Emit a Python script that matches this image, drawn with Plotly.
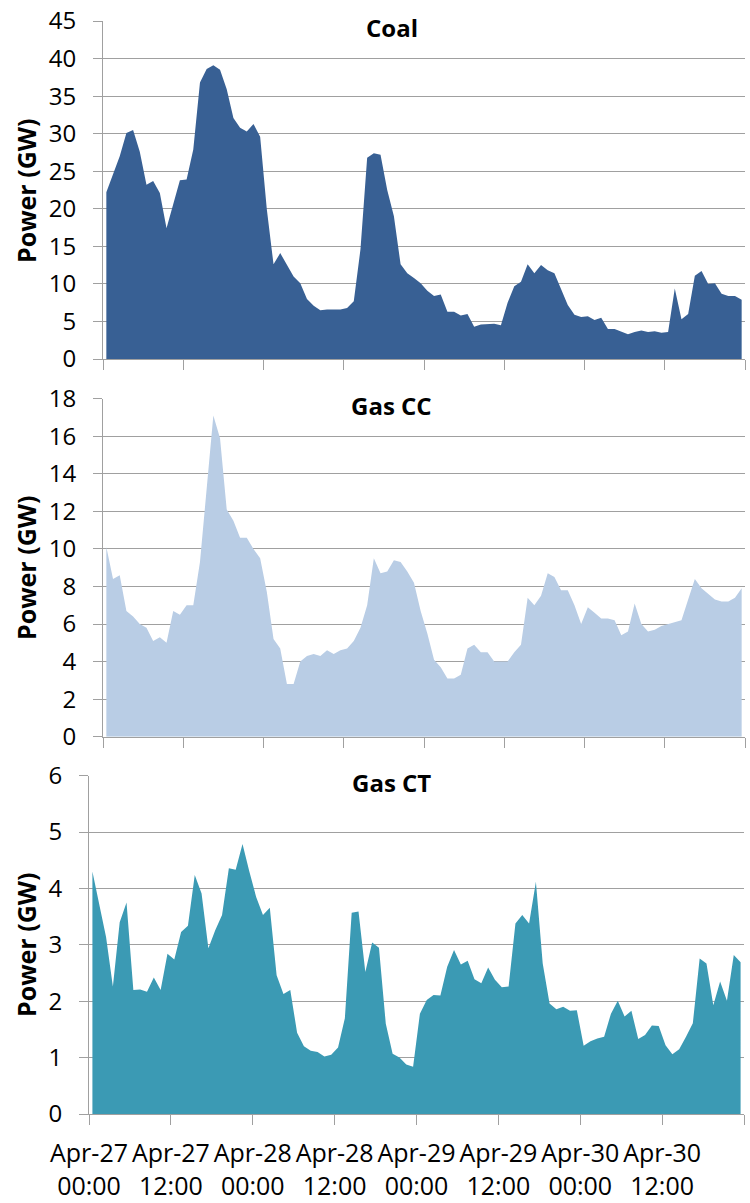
import plotly.graph_objects as go
import pandas as pd

# hourly observations (plotted at mid-hour)
times = pd.date_range("2013-04-27 00:30", periods=96, freq="h")

coal = [22.2, 24.5, 27.0, 30.1, 30.5, 27.6, 23.2, 23.7, 22.1, 17.4, 20.6, 23.8,
        23.9, 27.9, 36.8, 38.6, 39.1, 38.5, 35.9, 32.1, 30.8, 30.3, 31.3, 29.6,
        19.9, 12.6, 14.1, 12.6, 11.0, 10.1, 8.0, 7.1, 6.5, 6.6, 6.6, 6.6,
        6.8, 7.7, 14.6, 26.8, 27.4, 27.2, 22.5, 19.0, 12.6, 11.4, 10.8, 10.1,
        9.1, 8.4, 8.6, 6.3, 6.3, 5.8, 6.0, 4.3, 4.6, 4.6, 4.7, 4.5,
        7.5, 9.7, 10.3, 12.6, 11.4, 12.5, 11.8, 11.4, 9.2, 7.2, 5.9, 5.6,
        5.7, 5.2, 5.5, 4.0, 4.0, 3.6, 3.3, 3.6, 3.8, 3.6, 3.7, 3.5,
        3.6, 9.4, 5.3, 6.0, 11.1, 11.7, 10.0, 10.1, 8.7, 8.4, 8.4, 7.9]

gas_cc = [10.1, 8.4, 8.6, 6.7, 6.4, 6.0, 5.8, 5.1, 5.3, 5.0, 6.7, 6.5,
          7.0, 7.0, 9.3, 13.4, 17.1, 15.9, 12.1, 11.5, 10.6, 10.6, 10.0, 9.5,
          7.7, 5.2, 4.7, 2.8, 2.8, 4.0, 4.3, 4.4, 4.3, 4.6, 4.4, 4.6,
          4.7, 5.1, 5.8, 7.0, 9.5, 8.7, 8.8, 9.4, 9.3, 8.8, 8.2, 6.7,
          5.5, 4.1, 3.7, 3.1, 3.1, 3.3, 4.7, 4.9, 4.5, 4.5, 4.0, 4.0,
          4.0, 4.5, 4.9, 7.4, 7.0, 7.5, 8.7, 8.5, 7.8, 7.8, 7.0, 6.0,
          6.9, 6.6, 6.3, 6.3, 6.2, 5.4, 5.6, 7.1, 6.0, 5.6, 5.7, 5.9,
          6.0, 6.1, 6.2, 7.3, 8.4, 7.9, 7.6, 7.3, 7.2, 7.2, 7.4, 7.9]

gas_ct = [4.30, 3.74, 3.14, 2.26, 3.40, 3.75, 2.20, 2.21, 2.17, 2.42, 2.20, 2.84,
          2.74, 3.23, 3.34, 4.24, 3.91, 2.94, 3.26, 3.53, 4.36, 4.33, 4.79, 4.30,
          3.85, 3.53, 3.66, 2.46, 2.13, 2.20, 1.44, 1.20, 1.12, 1.10, 1.02, 1.05,
          1.18, 1.70, 3.57, 3.59, 2.52, 3.04, 2.95, 1.60, 1.07, 1.00, 0.88, 0.84,
          1.78, 2.02, 2.11, 2.10, 2.61, 2.91, 2.65, 2.72, 2.39, 2.32, 2.60, 2.38,
          2.25, 2.26, 3.38, 3.53, 3.38, 4.12, 2.67, 1.96, 1.86, 1.90, 1.83, 1.84,
          1.21, 1.29, 1.34, 1.37, 1.78, 2.01, 1.73, 1.83, 1.33, 1.40, 1.57, 1.56,
          1.22, 1.06, 1.15, 1.37, 1.61, 2.76, 2.67, 1.93, 2.35, 2.01, 2.82, 2.69]

tick_times = pd.date_range("2013-04-27 00:00", periods=9, freq="12h")
tick_labels = ["Apr-27<br>00:00", "Apr-27<br>12:00", "Apr-28<br>00:00", "Apr-28<br>12:00",
               "Apr-29<br>00:00", "Apr-29<br>12:00", "Apr-30<br>00:00", "Apr-30<br>12:00", ""]

panel_titles = ["Coal", "Gas CC", "Gas CT"]
y_ranges = [(0, 45, 5), (0, 18, 2), (0, 6, 1)]
colors = ["#386094", "#b9cde5", "#3b9ab4"]

W, H = 750, 1203
GRID = "#a0a0a0"
FONT = "Open Sans"

def px(x):
    return x / W

def py(y):
    return 1 - y / H

x_domains = [(px(103), px(745)), (px(103), px(745)), (px(89), px(744))]
y_domains = [(py(359), py(21)), (py(736.7), py(398.7)), (py(1114), py(775.7))]
title_y = [27, 405, 782.5]
ytitle_y = [191, 568, 945]

fig = go.Figure()
series = [coal, gas_cc, gas_ct]
for k in range(3):
    sfx = "" if k == 0 else str(k + 1)
    fig.add_trace(go.Scatter(
        x=times, y=series[k], mode="lines", fill="tozeroy",
        fillcolor=colors[k], line=dict(width=0, color=colors[k]),
        xaxis="x" + sfx, yaxis="y" + sfx, showlegend=False, hoverinfo="x+y"))
    fig.layout["xaxis" + sfx] = dict(
        domain=x_domains[k], anchor="y" + sfx,
        range=[tick_times[0], tick_times[-1]],
        tickmode="array", tickvals=list(tick_times), ticktext=tick_labels,
        showticklabels=(k == 2), tickangle=0,
        ticks="outside", ticklen=10, tickcolor=GRID,
        showline=True, linecolor=GRID, linewidth=1, showgrid=False, zeroline=False,
        ticklabelstandoff=7,
        tickfont=dict(family=FONT, size=25, color="#000000"))
    lo, hi, dt = y_ranges[k]
    fig.layout["yaxis" + sfx] = dict(
        domain=y_domains[k], anchor="x" + sfx, range=[lo, hi], dtick=dt,
        showgrid=True, gridcolor=GRID, gridwidth=1,
        ticks="outside", ticklen=9, tickcolor=GRID,
        showline=True, linecolor=GRID, linewidth=1, zeroline=False,
        ticklabelstandoff=12,
        tickfont=dict(family=FONT, size=24, color="#000000"))
    fig.add_annotation(text="<b>" + panel_titles[k] + "</b>", xref="paper", yref="paper",
                       x=px(392), y=py(title_y[k]), showarrow=False,
                       font=dict(family=FONT, size=24, color="#000000"),
                       xanchor="center", yanchor="middle")
    fig.add_annotation(text="<b>Power (GW)</b>", xref="paper", yref="paper",
                       x=px(26), y=py(ytitle_y[k]), showarrow=False, textangle=-90,
                       font=dict(family=FONT, size=25, color="#000000"),
                       xanchor="center", yanchor="middle")

fig.update_layout(width=W, height=H,
                  margin=dict(l=0, r=0, t=0, b=0, pad=0, autoexpand=False),
                  paper_bgcolor="white", plot_bgcolor="white",
                  font=dict(family=FONT, color="#000000"))

fig.write_html("out.html", config={"displayModeBar": False},
               post_script="document.body.style.margin='0';document.body.style.overflow='hidden';")
